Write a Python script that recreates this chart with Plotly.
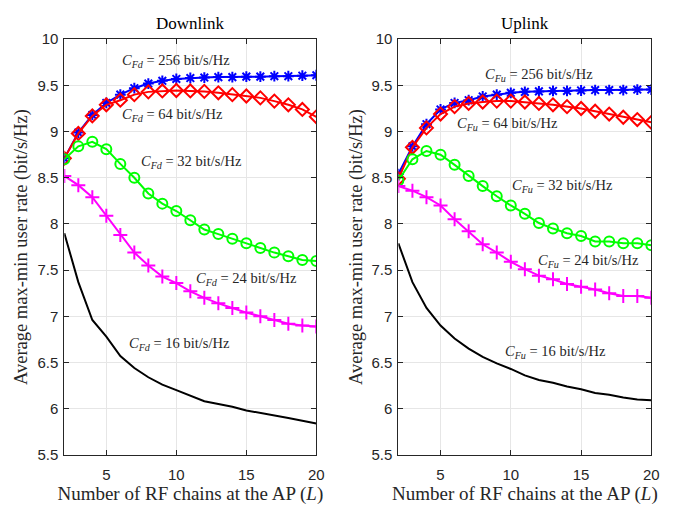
import plotly.graph_objects as go

L = list(range(2, 21))

# Downlink
dl_256 = [8.71, 8.99, 9.18, 9.31, 9.40, 9.47, 9.52, 9.55, 9.57, 9.58, 9.585, 9.59, 9.59, 9.595, 9.595, 9.60, 9.60, 9.605, 9.61]
dl_64 = [8.71, 8.98, 9.17, 9.29, 9.34, 9.40, 9.43, 9.44, 9.445, 9.44, 9.435, 9.42, 9.40, 9.385, 9.365, 9.33, 9.29, 9.24, 9.16]
dl_32 = [8.70, 8.84, 8.89, 8.81, 8.65, 8.50, 8.33, 8.22, 8.14, 8.04, 7.94, 7.89, 7.84, 7.79, 7.74, 7.69, 7.65, 7.61, 7.60]
dl_24 = [8.52, 8.42, 8.29, 8.09, 7.88, 7.69, 7.55, 7.43, 7.36, 7.27, 7.20, 7.14, 7.09, 7.04, 7.00, 6.96, 6.92, 6.90, 6.89]
dl_16 = [7.90, 7.37, 6.96, 6.78, 6.57, 6.44, 6.34, 6.26, 6.20, 6.14, 6.08, 6.05, 6.02, 5.98, 5.955, 5.93, 5.90, 5.87, 5.84]

# Uplink
ul_256 = [8.54, 8.84, 9.08, 9.24, 9.31, 9.34, 9.38, 9.40, 9.42, 9.43, 9.435, 9.44, 9.44, 9.445, 9.45, 9.45, 9.45, 9.455, 9.455]
ul_64 = [8.49, 8.83, 9.04, 9.19, 9.27, 9.305, 9.32, 9.33, 9.33, 9.32, 9.305, 9.29, 9.27, 9.25, 9.22, 9.19, 9.155, 9.13, 9.10]
ul_32 = [8.47, 8.70, 8.79, 8.75, 8.64, 8.52, 8.41, 8.30, 8.20, 8.11, 8.01, 7.95, 7.90, 7.87, 7.81, 7.81, 7.79, 7.79, 7.77]
ul_24 = [8.41, 8.36, 8.29, 8.20, 8.05, 7.92, 7.78, 7.69, 7.59, 7.51, 7.44, 7.40, 7.35, 7.32, 7.29, 7.25, 7.22, 7.22, 7.20]
ul_16 = [7.79, 7.37, 7.09, 6.90, 6.76, 6.65, 6.56, 6.49, 6.43, 6.36, 6.31, 6.28, 6.24, 6.21, 6.17, 6.15, 6.12, 6.10, 6.09]

capacities = ["256", "64", "32", "24", "16"]
dl_label_pos = [(10.0, 9.76), (9.7, 9.18), (11.1, 8.67), (15.0, 7.40), (10.2, 6.70)]
ul_label_pos = [(12.0, 9.61), (9.75, 9.08), (13.7, 8.41), (15.5, 7.60), (13.2, 6.61)]

x_ticks = [5, 10, 15, 20]
y_ticks = [5.5, 6, 6.5, 7, 7.5, 8, 8.5, 9, 9.5, 10]
y_ticktext = ["5.5", "6", "6.5", "7", "7.5", "8", "8.5", "9", "9.5", "10"]

colors = ["#0000FF", "#FF0000", "#00FF00", "#FF00FF", "#000000"]
symbols = ["asterisk-open", "diamond-open", "circle-open", "cross-thin-open", None]
sizes = [9, 10, 10, 10, 0]

fig = go.Figure()

def add_series(series, xa, ya):
    for ys, c, sym, sz in zip(series, colors, symbols, sizes):
        if sym is None:
            fig.add_trace(go.Scatter(x=L, y=ys, mode="lines", xaxis=xa, yaxis=ya,
                                     line=dict(color=c, width=2), showlegend=False))
        else:
            fig.add_trace(go.Scatter(x=L, y=ys, mode="lines+markers", xaxis=xa, yaxis=ya,
                                     line=dict(color=c, width=2),
                                     marker=dict(symbol=sym, size=sz, color=c,
                                                 line=dict(color=c, width=2)),
                                     showlegend=False))

add_series([dl_256, dl_64, dl_32, dl_24, dl_16], "x", "y")
add_series([ul_256, ul_64, ul_32, ul_24, ul_16], "x2", "y2")

serif = "Liberation Serif"
sans = "Liberation Sans"

for cap, (lx, ly) in zip(capacities, dl_label_pos):
    fig.add_annotation(x=lx, y=ly, xref="x", yref="y", showarrow=False,
                       text=f"<i>C</i><sub><i>Fd</i></sub> = {cap} bit/s/Hz",
                       font=dict(family=serif, size=14.5, color="#262626"))
for cap, (lx, ly) in zip(capacities, ul_label_pos):
    fig.add_annotation(x=lx, y=ly, xref="x2", yref="y2", showarrow=False,
                       text=f"<i>C</i><sub><i>Fu</i></sub> = {cap} bit/s/Hz",
                       font=dict(family=serif, size=14.5, color="#262626"))

# subplot titles
fig.add_annotation(x=0.5, y=1.0, xref="x domain", yref="y domain", yanchor="bottom", yshift=4,
                   showarrow=False, text="Downlink", font=dict(family=serif, size=17, color="#000"))
fig.add_annotation(x=0.5, y=1.0, xref="x2 domain", yref="y2 domain", yanchor="bottom", yshift=4,
                   showarrow=False, text="Uplink", font=dict(family=serif, size=17, color="#000"))

axis_common = dict(
    showline=True, linecolor="#262626", linewidth=1, mirror="ticks",
    ticks="inside", ticklen=5, tickcolor="#262626",
    showgrid=True, gridcolor="#e6e6e6", gridwidth=1, zeroline=False,
    tickfont=dict(family=sans, size=15, color="#262626"),
)
xt = dict(range=[2, 20], tickvals=x_ticks, ticklabelstandoff=6,
          title=dict(text="Number of RF chains at the AP (<i>L</i>)",
                     font=dict(family=serif, size=19, color="#262626"), standoff=0))
yt = dict(range=[5.5, 10], tickvals=y_ticks, ticktext=y_ticktext, ticklabelstandoff=2,
          title=dict(text="Average max-min user rate (bit/s/Hz)",
                     font=dict(family=serif, size=18.5, color="#262626"), standoff=4))

# the page body adds an 8px offset; domains place the plot areas where the reference has them
fig.update_layout(
    width=682, height=508,
    margin=dict(l=0, r=0, t=0, b=0),
    paper_bgcolor="white", plot_bgcolor="white",
    xaxis=dict(domain=[57/682, 312/682], anchor="y", **axis_common, **xt),
    yaxis=dict(domain=[1-453/508, 1-23/508], anchor="x", **axis_common, **yt),
    xaxis2=dict(domain=[395/682, 651/682], anchor="y2", **axis_common, **xt),
    yaxis2=dict(domain=[1-453/508, 1-23/508], anchor="x2", **axis_common, **yt),
)

fig.write_html("out.html")
